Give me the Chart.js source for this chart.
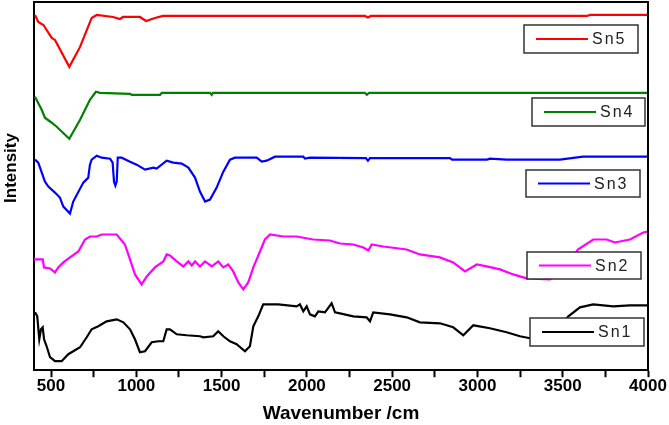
<!DOCTYPE html>
<html>
<head>
<meta charset="utf-8">
<script src="https://cdn.jsdelivr.net/npm/chart.js@4.4.1/dist/chart.umd.min.js"></script>
<style>
  html, body { margin: 0; padding: 0; background: #fff; }
  #wrap { width: 669px; height: 425px; }
</style>
</head>
<body>
<div id="wrap"><canvas id="c" width="669" height="425"></canvas></div>
<script>
// --- data (wavenumber in cm-1, intensity in a.u., offset per sample) ---
const sn5Wn = [406, 425, 455, 504, 523, 607, 670, 738, 768, 863, 904, 922, 1021, 1057, 1109, 1156, 2340, 2358, 2375, 3642, 3660, 4000];
const sn5Val = [356, 349, 346, 333, 331, 304, 324, 353, 356, 354, 352, 354, 354, 350, 353, 355, 355, 353.5, 355, 355, 356, 356];

const sn4Wn = [406, 445, 464, 504, 533, 607, 670, 728, 763, 787, 963, 973, 1139, 1149, 1432, 1442, 1449, 2340, 2352, 2365, 4000];
const sn4Val = [274, 261, 253, 248, 244, 232, 251, 271, 279, 278, 277, 276, 276, 278, 278, 276, 278, 278, 276, 278, 278];

const sn3Wn = [406, 425, 464, 484, 523, 552, 572, 611, 630, 689, 718, 728, 738, 768, 797, 846, 861, 869, 877, 885, 891, 914,
  963, 1002, 1051, 1100, 1119, 1178, 1217, 1266, 1305, 1344, 1373, 1403, 1432, 1471, 1510, 1549, 1578, 1706, 1735, 1764,
  1813, 1979, 1989, 2018, 2346, 2358, 2370, 2839, 2851, 3056, 3073, 3171, 3484, 3619, 4000];
const sn3Val = [211, 208, 189, 184, 178, 173, 164, 157, 169, 188, 193, 206, 211, 215, 213, 212, 208, 189, 185, 189, 213, 213,
  209, 206, 201, 203, 202, 210, 208, 207, 203, 193, 179, 169, 171, 183, 199, 211, 213, 213, 209, 210,
  214, 214, 212, 213, 212.5, 210, 212.5, 212.5, 211, 211, 212, 211, 211, 214, 214];

const sn2Wn = [400, 451, 459, 494, 523, 542, 572, 611, 660, 699, 728, 768, 797, 885, 933, 959, 992, 1031, 1061, 1109, 1158,
  1178, 1197, 1237, 1275, 1305, 1325, 1344, 1373, 1403, 1442, 1480, 1510, 1539, 1568, 1598, 1627, 1656, 1686, 1725, 1754,
  1784, 1862, 1940, 2037, 2135, 2194, 2272, 2331, 2360, 2380, 2448, 2585, 2663, 2780, 2858, 2927, 2996, 3054, 3132, 3210,
  3288, 3425, 3513, 3589, 3679, 3758, 3806, 3894, 3972, 4000];
const sn2Val = [111, 111, 103, 102, 98, 103, 108, 113, 119, 131, 134, 134, 136, 136, 126, 113, 96, 86, 94, 103, 109,
  116, 115, 109, 104, 109, 105, 109, 104, 109, 104, 109, 103, 106, 99, 88, 81, 88, 103, 119, 131,
  136, 134, 134, 131, 130, 127, 126, 123, 120, 126, 124, 121, 116, 113, 108, 99, 106, 104, 101, 96,
  92, 91, 101, 121, 131, 131, 128, 131, 138, 139];

const sn1Wn = [406, 419, 431, 441, 451, 459, 474, 494, 523, 562, 601, 630, 670, 709, 738, 777, 826, 885, 924, 963, 992,
  1021, 1051, 1090, 1129, 1158, 1178, 1197, 1237, 1295, 1373, 1393, 1451, 1480, 1510, 1549, 1588, 1637, 1666, 1686, 1715,
  1744, 1832, 1940, 1959, 1979, 1999, 2018, 2047, 2067, 2106, 2145, 2165, 2194, 2272, 2350, 2370, 2389, 2487, 2585, 2663,
  2780, 2858, 2917, 2976, 3073, 3171, 3249, 3308, 3366, 3454, 3533, 3601, 3679, 3796, 3894, 4000];
const sn1Val = [58, 54, 31, 41, 43, 31, 24, 13, 9, 9, 16, 19, 23, 33, 41, 44, 49, 51, 48, 41, 31,
  18, 19, 28, 29, 29, 41, 41, 36, 35, 34, 33, 34, 39, 34, 29, 26, 19, 24, 44, 54,
  66, 66, 64, 66, 59, 64, 56, 54, 59, 58, 67, 58, 57, 54, 53, 49, 58, 56, 53, 48,
  47, 43, 35, 45, 42, 38, 34, 32, 30, 39, 54, 63, 66, 64, 65, 65];

const xTicks = [500, 750, 1000, 1250, 1500, 1750, 2000, 2250, 2500, 2750, 3000, 3250, 3500, 3750, 4000];

const samples = [
  { label: "Sn5", wn: sn5Wn, val: sn5Val, color: "#ff0000" },
  { label: "Sn4", wn: sn4Wn, val: sn4Val, color: "#008000" },
  { label: "Sn3", wn: sn3Wn, val: sn3Val, color: "#0000ff" },
  { label: "Sn2", wn: sn2Wn, val: sn2Val, color: "#ff00ff" },
  { label: "Sn1", wn: sn1Wn, val: sn1Val, color: "#000000" }
];

// legend boxes sit next to each trace, like in the original figure
const legendBoxes = [
  { x: 524, y: 25, w: 114, h: 28 },
  { x: 532, y: 98, w: 113, h: 28 },
  { x: 526, y: 170, w: 114, h: 27 },
  { x: 527, y: 252, w: 114, h: 27 },
  { x: 530, y: 318, w: 114, h: 28 }
];

const framePlugin = {
  id: "frame",
  afterDatasetsDraw(chart) {
    const { ctx, chartArea: a } = chart;
    ctx.save();
    // top + right border
    ctx.strokeStyle = "#000";
    ctx.lineWidth = 2;
    ctx.beginPath();
    ctx.moveTo(a.left, a.top);
    ctx.lineTo(a.right, a.top);
    ctx.lineTo(a.right, a.bottom);
    ctx.stroke();

    // legend boxes
    ctx.font = "16px 'Liberation Sans', Arial, sans-serif";
    ctx.letterSpacing = "2px";
    ctx.textBaseline = "middle";
    samples.forEach((s, i) => {
      const b = legendBoxes[i];
      ctx.fillStyle = "#fff";
      ctx.fillRect(b.x, b.y, b.w, b.h);
      ctx.strokeStyle = "#333";
      ctx.lineWidth = 1.5;
      ctx.strokeRect(b.x, b.y, b.w, b.h);
      ctx.strokeStyle = s.color;
      ctx.lineWidth = 2;
      ctx.beginPath();
      ctx.moveTo(b.x + 12, b.y + b.h / 2);
      ctx.lineTo(b.x + 64, b.y + b.h / 2);
      ctx.stroke();
      ctx.fillStyle = "#222";
      ctx.fillText(s.label, b.x + 68, b.y + b.h / 2 + 1);
    });

    // y title
    ctx.letterSpacing = "0px";
    ctx.font = "bold 17px 'Liberation Sans', Arial, sans-serif";
    ctx.fillStyle = "#000";
    ctx.textAlign = "center";
    ctx.translate(11, 168);
    ctx.rotate(-Math.PI / 2);
    ctx.fillText("Intensity", 0, 0);
    ctx.restore();
  }
};

new Chart(document.getElementById("c"), {
  type: "line",
  data: {
    datasets: samples.map(s => ({
      label: s.label,
      data: s.wn.map((w, i) => ({ x: w, y: s.val[i] })),
      borderColor: s.color,
      borderWidth: 2.2,
      pointRadius: 0,
      tension: 0,
      fill: false
    }))
  },
  options: {
    responsive: false,
    animation: false,
    layout: { padding: { left: 34, top: 2, right: 21, bottom: 0 } },
    plugins: { legend: { display: false }, tooltip: { enabled: false } },
    scales: {
      x: {
        type: "linear",
        min: 400,
        max: 4000,
        afterBuildTicks: scale => { scale.ticks = xTicks.map(v => ({ value: v })); },
        ticks: {
          autoSkip: false,
          maxRotation: 0,
          padding: 1,
          color: "#000",
          font: { family: "'Liberation Sans', Arial, sans-serif", size: 17, weight: "bold", lineHeight: 1 },
          callback: v => (v % 500 === 0 ? String(v) : "")
        },
        grid: { drawOnChartArea: false, drawTicks: true, tickLength: 7, tickColor: "#000", tickWidth: 2 },
        border: { display: true, color: "#000", width: 2 },
        title: {
          display: true,
          text: "Wavenumber /cm",
          color: "#000",
          font: { family: "'Liberation Sans', Arial, sans-serif", size: 19, weight: "bold" },
          padding: { top: 6, bottom: 0 }
        }
      },
      y: {
        min: 0,
        max: 369,
        ticks: { display: false },
        grid: { display: false, drawTicks: false },
        border: { display: true, color: "#000", width: 2 }
      }
    }
  },
  plugins: [framePlugin]
});
</script>
</body>
</html>
